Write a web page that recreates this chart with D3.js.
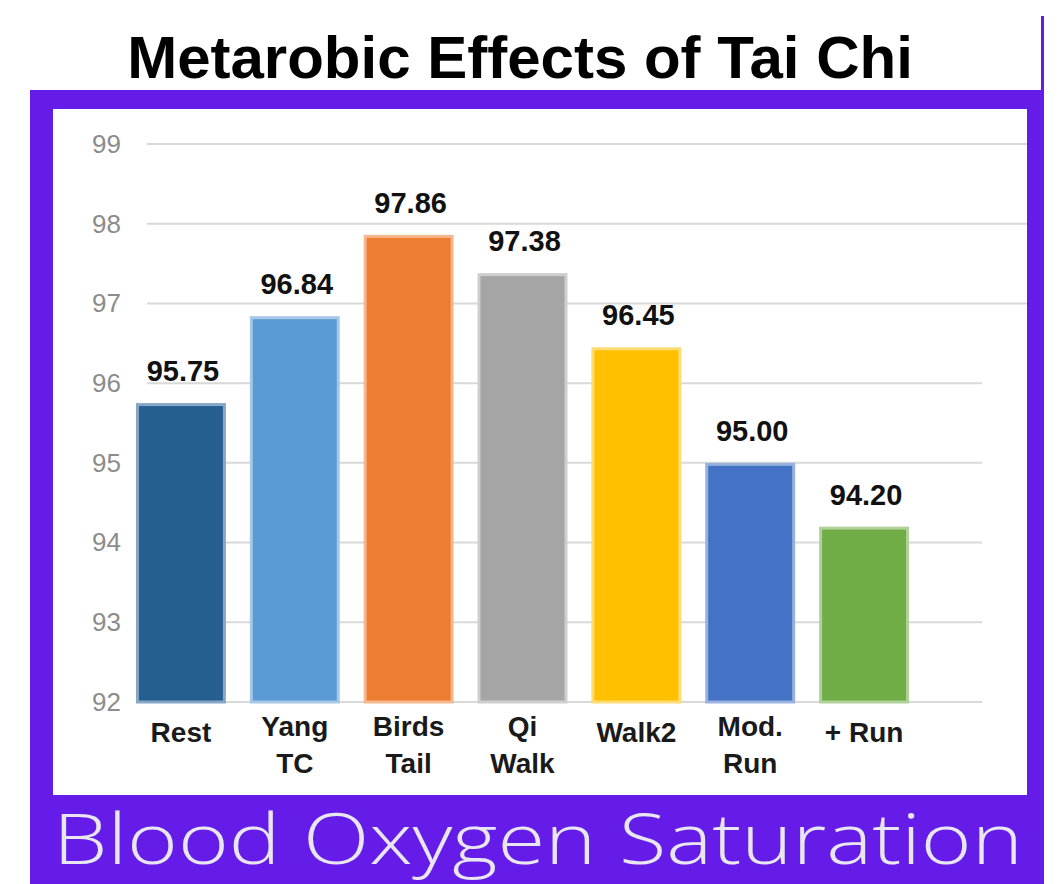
<!DOCTYPE html>
<html>
<head>
<meta charset="utf-8">
<script src="https://cdn.jsdelivr.net/npm/d3@7"></script>
<style>
  body { margin: 0; background: #fff; }
  text { font-family: "Liberation Sans", Arial, sans-serif; }
</style>
</head>
<body>
<div id="chart"></div>
<script>
// data
var categories = [["Rest"], ["Yang", "TC"], ["Birds", "Tail"], ["Qi", "Walk"], ["Walk2"], ["Mod.", "Run"], ["+ Run"]];
var values = [95.75, 96.84, 97.86, 97.38, 96.45, 95.00, 94.20];
var barColors = ["#255e91", "#5b9bd5", "#ed7d31", "#a5a5a5", "#ffc000", "#4472c4", "#70ad47"];
var yTicks = [92, 93, 94, 95, 96, 97, 98, 99];

const width = 1059, height = 884;
const purple = "#661ce8";

const svg = d3.select('#chart')
    .append("svg")
    .attr('width', width)
    .attr('height', height);

// title
svg.append("text")
    .attr("x", 520)
    .attr("y", 78)
    .attr("text-anchor", "middle")
    .attr("font-size", 60)
    .attr("font-weight", "bold")
    .attr("fill", "#000")
    .text("Metarobic Effects of Tai Chi");

// purple frame + thin line up the right side
svg.append("rect").attr("x", 1041).attr("y", 16).attr("width", 3).attr("height", 80).attr("fill", purple);
svg.append("rect").attr("x", 30).attr("y", 90).attr("width", 1014).attr("height", 794).attr("fill", purple);
svg.append("rect").attr("x", 53).attr("y", 109).attr("width", 974).attr("height", 686).attr("fill", "#fff");

const xScale = d3.scaleBand()
    .domain(d3.range(values.length))
    .range([124, 921])
    .paddingInner(0.21)
    .paddingOuter(0.105);

const yScale = d3.scaleLinear()
    .domain([92, 99])
    .range([702, 144]);

// gridlines
svg.selectAll(".grid")
    .data(yTicks)
    .enter()
    .append("line")
    .attr("class", "grid")
    .attr("x1", 147)
    .attr("x2", d => d >= 97 ? 1027 : 982)
    .attr("y1", d => yScale(d))
    .attr("y2", d => yScale(d))
    .attr("stroke", "#d9d9d9")
    .attr("stroke-width", 2);

// y axis labels
const yAxis = d3.axisLeft(yScale)
    .tickValues(yTicks)
    .tickFormat(d3.format("d"))
    .tickSize(0)
    .tickPadding(0);
const ax = svg.append("g")
    .attr("transform", "translate(121,0)")
    .call(yAxis);
ax.select(".domain").remove();
ax.selectAll("text")
    .attr("font-size", 26)
    .attr("fill", "#8c8c8c");

// bars
svg.selectAll(".bar")
    .data(values)
    .enter()
    .append("rect")
    .attr("class", "bar")
    .attr("x", (d, i) => xScale(i) + 1.5)
    .attr("width", xScale.bandwidth() - 3)
    .attr("y", d => yScale(d) + 1.5)
    .attr("height", d => yScale(92) - yScale(d) - 1.5)
    .attr("fill", (d, i) => barColors[i])
    .attr("stroke", (d, i) => d3.interpolateRgb(barColors[i], "#fff")(0.45))
    .attr("stroke-width", 3);

// value labels
svg.selectAll(".val")
    .data(values)
    .enter()
    .append("text")
    .attr("class", "val")
    .attr("x", (d, i) => xScale(i) + xScale.bandwidth() / 2 + 2)
    .attr("y", d => yScale(d) - 22)
    .attr("text-anchor", "middle")
    .attr("font-size", 29)
    .attr("font-weight", "bold")
    .attr("fill", "#111")
    .text(d => d.toFixed(2));

// category labels
const cat = svg.selectAll(".cat")
    .data(categories)
    .enter()
    .append("text")
    .attr("class", "cat")
    .attr("text-anchor", "middle")
    .attr("font-size", 28)
    .attr("font-weight", "bold")
    .attr("fill", "#1a1a1a")
    .attr("transform", (d, i) => `translate(${xScale(i) + xScale.bandwidth() / 2},${d.length > 1 ? 736 : 742})`);
cat.selectAll("tspan")
    .data(d => d)
    .enter()
    .append("tspan")
    .attr("x", 0)
    .attr("dy", (d, j) => j === 0 ? 0 : 37)
    .text(d => d);

// bottom caption
svg.append("text")
    .attr("x", 53)
    .attr("y", 864)
    .style("font-family", "'Open Sans', Inter, sans-serif")
    .style("font-weight", 300)
    .attr("font-size", 70)
    .attr("fill", "#e8e6f0")
    .attr("textLength", 970)
    .attr("lengthAdjust", "spacingAndGlyphs")
    .text("Blood Oxygen Saturation");
</script>
</body>
</html>
